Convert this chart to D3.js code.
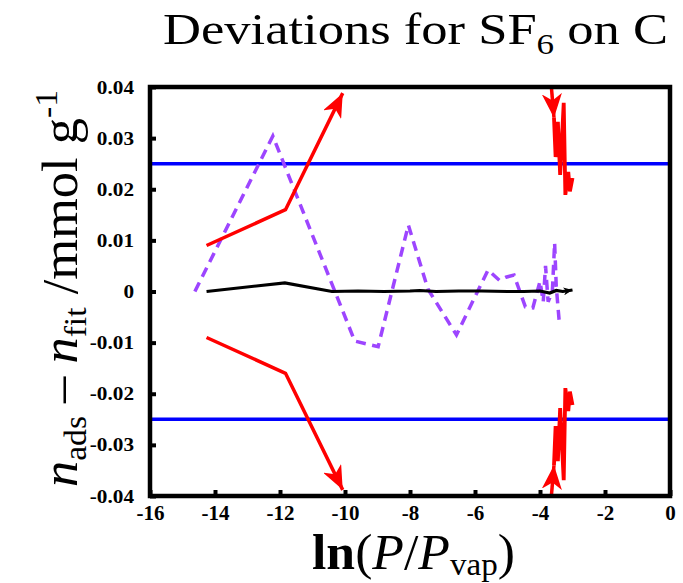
<!DOCTYPE html>
<html><head><meta charset="utf-8">
<script src="https://cdn.jsdelivr.net/npm/d3@7/dist/d3.min.js"></script>
<style>body{margin:0;background:#fff}svg{display:block}
text{font-family:"Liberation Serif","Times New Roman",Times,serif}</style>
</head><body>
<script>
// ---- data ----
const xTicks = [-16,-14,-12,-10,-8,-6,-4,-2,0];
const yTicks = [-0.04,-0.03,-0.02,-0.01,0,0.01,0.02,0.03,0.04];
const yTickLabels = ["-0.04","-0.03","-0.02","-0.01","0","0.01","0.02","0.03","0.04"];
const blueLimit = 0.025;
// black: deviations
const blackX = [-14.26,-11.85,-10.4,-9.6,-8.8,-8.0,-7.7,-7.2,-6.5,-5.8,-5.0,-4.5,-4.0,-3.7,-3.5,-3.3,-3.1,-3.0];
const blackY = [0,0.0017,0.0,0.0001,0.0,0.0001,0.0002,0.0,0.0001,0.0001,0.0,0.0,0.0001,-0.0003,0.0002,0.0,0.0002,0.0003];
// purple dashed
const purpleX = [-14.62,-12.22,-9.7,-8.98,-8.05,-7.45,-6.57,-5.6,-5.25,-5.05,-4.8,-4.45,-4.22,-4.0,-3.9,-3.83,-3.75,-3.62,-3.55,-3.5,-3.4];
const purpleY = [0,0.0304,-0.0097,-0.0108,0.013,0.0005,-0.0085,0.0042,0.0022,0.0028,0.0032,-0.003,-0.0032,0.002,-0.002,0.005,-0.002,0.0,0.0095,0.001,-0.0065];
// red uncertainty band (upper; lower is mirrored)
const redLeftX = [-14.26,-11.83,-10.07];
const redLeftY = [0.009,0.016,0.0388];
const redEntryX = [-3.67,-3.57];
const redEntryY = [0.0415,0.034];
const redRightX = [-3.57,-3.52,-3.45,-3.38,-3.27,-3.22,-3.13,-3.08,-3.0];
const redRightY = [0.034,0.0263,0.0332,0.0228,0.0369,0.0189,0.0234,0.0196,0.0222];

// ---- layout ----
const W=683,H=583, L=150,R=670,T=87,B=496;
const svg=d3.select("body").append("svg").attr("width",W).attr("height",H);
const x=d3.scaleLinear().domain([-16,0]).range([L,R]);
const y=d3.scaleLinear().domain([-0.04,0.04]).range([B,T]);

const defs=svg.append("defs");
defs.append("clipPath").attr("id","clip").append("rect").attr("x",L).attr("y",T).attr("width",R-L).attr("height",B-T);
function marker(id,color,len,wid){
  defs.append("marker").attr("id",id).attr("markerUnits","userSpaceOnUse")
   .attr("viewBox",`${-len} ${-wid/2} ${len} ${wid}`).attr("refX",0).attr("refY",0)
   .attr("markerWidth",len).attr("markerHeight",wid).attr("orient","auto")
   .append("path").attr("d",`M0,0L${-len},${-wid/2}L${-len*0.72},0L${-len},${wid/2}Z`).attr("fill",color);
}
marker("arR","#ff0000",24,20);
marker("arK","#000000",9,8);

const line=d3.line().x(d=>x(d[0])).y(d=>y(d[1]));
const zip=(a,b,s=1)=>a.map((v,i)=>[v,b[i]*s]);
const g=svg.append("g").attr("clip-path","url(#clip)");

[blueLimit,-blueLimit].forEach(v=>{
  g.append("line").attr("x1",L).attr("x2",R).attr("y1",y(v)).attr("y2",y(v))
   .attr("stroke","#0000ff").attr("stroke-width",3.5);
});
g.append("path").attr("d",line(zip(purpleX,purpleY))).attr("fill","none")
 .attr("stroke","#9d45ff").attr("stroke-width",3.5).attr("stroke-dasharray","10,6.5");
svg.append("path").attr("d",line(zip(blackX,blackY))).attr("fill","none")
 .attr("stroke","#000").attr("stroke-width",3.2).attr("marker-end","url(#arK)");
[1,-1].forEach(s=>{
  svg.append("path").attr("d",line(zip(redLeftX,redLeftY,s))).attr("fill","none")
   .attr("stroke","#ff0000").attr("stroke-width",3.5).attr("marker-end","url(#arR)");
  g.append("path").attr("d",line(zip(redEntryX,redEntryY,s))).attr("fill","none")
   .attr("stroke","#ff0000").attr("stroke-width",3.5).attr("marker-end","url(#arR)");
  svg.append("path").attr("d",line(zip(redRightX,redRightY,s))).attr("fill","none")
   .attr("stroke","#ff0000").attr("stroke-width",3.8).attr("stroke-linejoin","miter");
});

const xa=svg.append("g").attr("transform",`translate(0,${B})`)
  .call(d3.axisBottom(x).tickValues(xTicks).tickSize(-6).tickPadding(9).tickFormat(d=>d));
xa.select(".domain").remove();
xa.selectAll("line").attr("stroke","#000").attr("stroke-width",4);
xa.selectAll("text").attr("font-weight","bold").attr("font-size",21).attr("fill","#000");
const ya=svg.append("g").attr("transform",`translate(${L},0)`)
  .call(d3.axisLeft(y).tickValues(yTicks).tickSize(-6).tickPadding(0).tickFormat((d,i)=>yTickLabels[i]));
ya.select(".domain").remove();
ya.selectAll("line").attr("stroke","#000").attr("stroke-width",4);
ya.selectAll("text").attr("x",null).attr("font-weight","bold").attr("font-size",18).attr("fill","#000")
  .attr("dy",null).attr("transform","translate(-16,6) scale(1.18,1)");

svg.append("rect").attr("x",L).attr("y",T).attr("width",R-L).attr("height",B-T)
 .attr("fill","none").attr("stroke","#000").attr("stroke-width",4.5);

const tt=svg.append("text").attr("x",163).attr("y",44).attr("font-size",45)
 .attr("textLength",505).attr("lengthAdjust","spacingAndGlyphs");
tt.append("tspan").text("Deviations for SF");
tt.append("tspan").text("6").attr("font-size",30).attr("dy",10);
tt.append("tspan").text(" on C").attr("dy",-10);

const xt=svg.append("text").attr("x",312).attr("y",569).attr("font-size",50)
 .attr("textLength",203).attr("lengthAdjust","spacingAndGlyphs");
xt.append("tspan").text("ln").attr("font-weight","bold");
xt.append("tspan").text("(");
xt.append("tspan").text("P").attr("font-style","italic");
xt.append("tspan").text("/");
xt.append("tspan").text("P").attr("font-style","italic");
xt.append("tspan").text("vap").attr("font-size",32).attr("dy",6);
xt.append("tspan").text(")").attr("dy",-6);

const yt=svg.append("text").attr("transform","translate(77,487) rotate(-90)").attr("font-size",50)
 .attr("textLength",397).attr("lengthAdjust","spacingAndGlyphs");
yt.append("tspan").text("n").attr("font-style","italic");
yt.append("tspan").text("ads").attr("font-size",32).attr("dy",9);
yt.append("tspan").text(" \u2013 ").attr("dy",-9);
yt.append("tspan").text("n").attr("font-style","italic");
yt.append("tspan").text("fit").attr("font-size",32).attr("dy",9);
yt.append("tspan").text(" /mmol g").attr("dy",-9);
yt.append("tspan").text("-1").attr("font-size",32).attr("dy",-20);
</script>
</body></html>
